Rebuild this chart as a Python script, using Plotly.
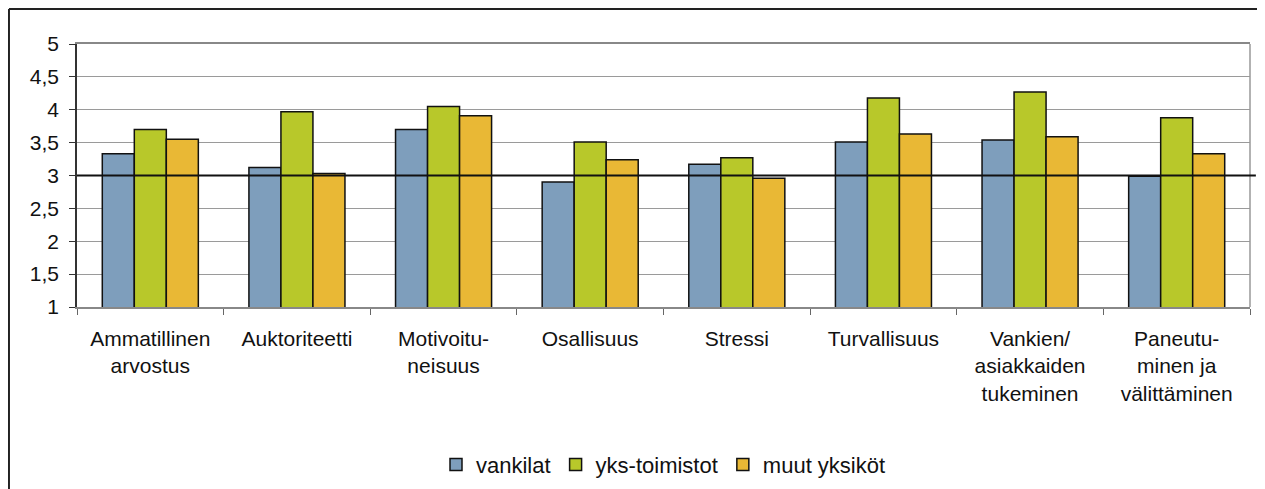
import plotly.graph_objects as go

categories = [
    "Ammatillinen<br>arvostus",
    "Auktoriteetti",
    "Motivoitu-<br>neisuus",
    "Osallisuus",
    "Stressi",
    "Turvallisuus",
    "Vankien/<br>asiakkaiden<br>tukeminen",
    "Paneutu-<br>minen ja<br>välittäminen",
]
vankilat = [3.33, 3.12, 3.70, 2.90, 3.17, 3.51, 3.54, 2.99]
yks_toimistot = [3.70, 3.97, 4.05, 3.51, 3.27, 4.18, 4.27, 3.88]
muut_yksikot = [3.55, 3.03, 3.91, 3.24, 2.96, 3.63, 3.59, 3.33]

series = [
    ("vankilat", vankilat, "#7E9EBC"),
    ("yks-toimistot", yks_toimistot, "#B8C82A"),
    ("muut yksiköt", muut_yksikot, "#E9B835"),
]

FONT = "Liberation Sans, Arial, sans-serif"

fig = go.Figure()
for name, vals, color in series:
    fig.add_trace(
        go.Bar(
            x=categories,
            y=vals,
            name=name,
            marker=dict(color=color, line=dict(color="#111111", width=1.5)),
        )
    )

# page body has an 8px margin, so the figure is 8px smaller than the window
fig.update_layout(
    width=1257,
    height=481,
    paper_bgcolor="white",
    plot_bgcolor="white",
    separators=", ",
    barmode="group",
    bargap=0.345,
    bargroupgap=0,
    margin=dict(l=69, r=15, t=36, b=182, autoexpand=False),
    font=dict(family=FONT, size=21, color="#111111"),
    showlegend=True,
    legend=dict(
        orientation="h",
        x=0.5,
        xanchor="center",
        y=-0.60,
        yanchor="middle",
        font=dict(size=22),
        itemwidth=30,
        traceorder="normal",
    ),
)

fig.update_xaxes(
    showline=True,
    linecolor="#888888",
    linewidth=1.5,
    mirror=True,
    ticks="outside",
    tickson="boundaries",
    ticklen=6,
    tickcolor="#666666",
    ticklabelstandoff=12,
    tickfont=dict(size=21),
    showgrid=False,
)
fig.update_yaxes(
    range=[1, 5],
    dtick=0.5,
    showline=True,
    linecolor="#333333",
    linewidth=1.5,
    ticks="outside",
    ticklen=6,
    tickcolor="#333333",
    ticklabelstandoff=6,
    tickfont=dict(size=21),
    showgrid=True,
    gridcolor="#9A9A9A",
    gridwidth=1,
    zeroline=False,
)

# right edge of plot area
fig.add_shape(type="line", xref="paper", yref="paper", x0=1, x1=1, y0=0, y1=1,
              line=dict(color="#999999", width=1.5))
# reference line at 3
fig.add_shape(type="line", xref="paper", yref="y", x0=0, x1=1.005, y0=3, y1=3,
              line=dict(color="#111111", width=2))
# outer frame (top and left)
fig.add_shape(type="line", xref="paper", yref="paper", x0=-0.058, x1=1.1, y0=1.133, y1=1.133,
              line=dict(color="#222222", width=2))
fig.add_shape(type="line", xref="paper", yref="paper", x0=-0.058, x1=-0.058, y0=-1, y1=1.133,
              line=dict(color="#222222", width=2))

fig.write_html("out.html")
